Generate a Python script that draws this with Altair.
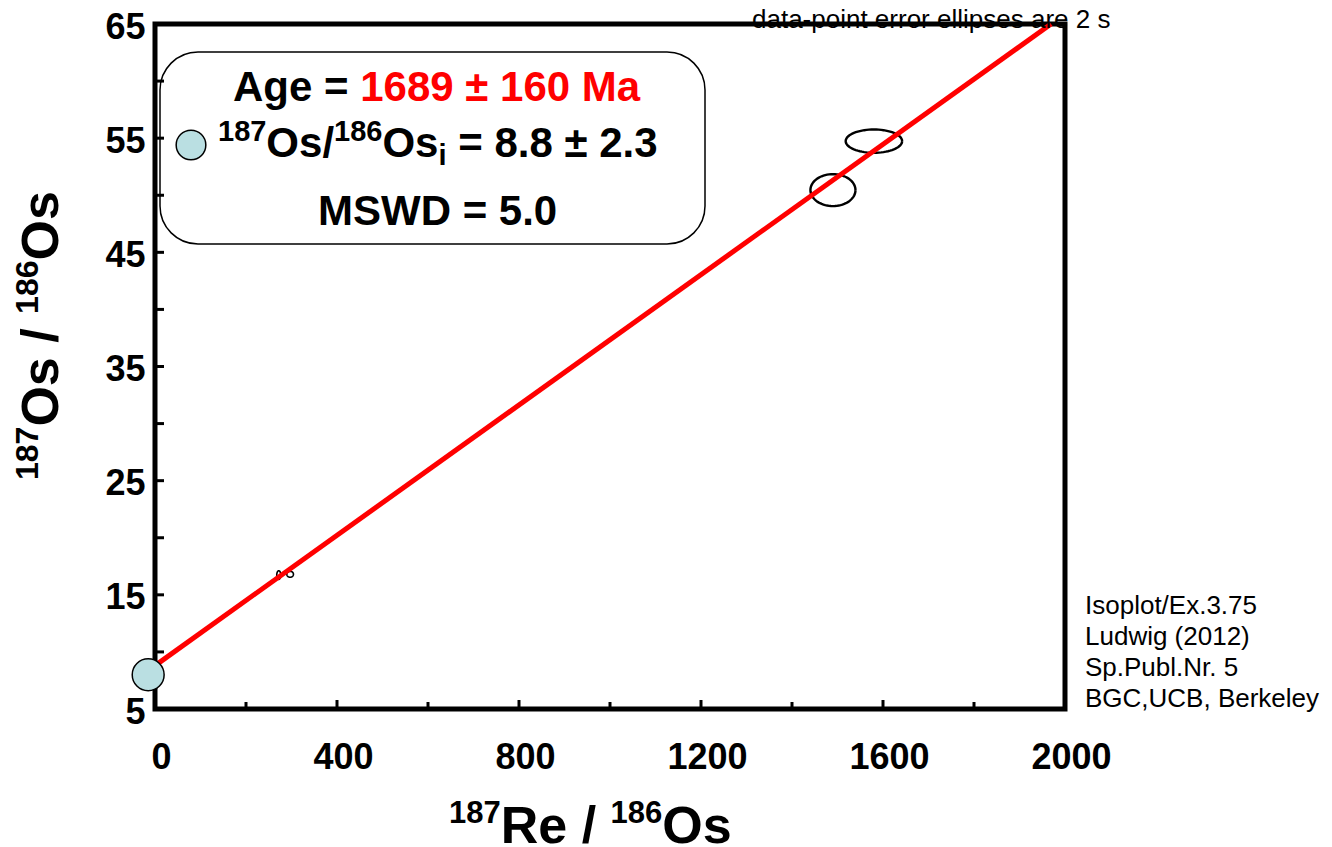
import numpy as np
import pandas as pd
import altair as alt

FONT = "Liberation Sans"

# ---------------- data ----------------
x_label_values = [0, 400, 800, 1200, 1600, 2000]
x_tick_major = [400, 800, 1200, 1600]
x_tick_minor = [200, 600, 1000, 1400, 1800]
y_label_values = [5, 15, 25, 35, 45, 55, 65]
y_tick_values = [10, 15, 20, 25, 30, 35, 40, 45, 50, 55, 60]

# data-point error ellipses (centre, semi-axes in data units)
ell_id = ["a", "b", "c", "d"]
ell_cx = [272, 297, 1490, 1580]
ell_cy = [16.73, 16.80, 50.45, 54.74]
ell_rx = [4.4, 7.3, 49.5, 62.0]
ell_ry = [0.38, 0.26, 1.40, 1.02]

# isochron fit
age_ma = 1689
initial_ratio = 8.8
lambda_re187 = 1.666e-11
intercept_marker_x = [-15]
intercept_marker_y = [8.0]

note_lines = ["Isoplot/Ex.3.75", "Ludwig (2012)", "Sp.Publ.Nr. 5", "BGC,UCB, Berkeley"]
top_note = "data-point error ellipses are 2 s"

# ---------------- layout ----------------
W, H = 910, 685
L, T = 155, 24
x_scale = alt.Scale(domain=[0, 2000], nice=False, zero=False)
y_scale = alt.Scale(domain=[5, 65], nice=False, zero=False)
BLUE = "#badfe2"

# regression line
slope = np.exp(lambda_re187 * age_ma * 1e6) - 1
x_end = (65 - initial_ratio) / slope
line_df = pd.DataFrame({"x": [0, x_end], "y": [initial_ratio, initial_ratio + slope * x_end]})

# ellipse outlines
rows = []
tt = np.linspace(0, 2 * np.pi, 73)
for i, eid in enumerate(ell_id):
    for k, t in enumerate(tt):
        rows.append({"id": eid, "o": k,
                     "x": ell_cx[i] + ell_rx[i] * np.cos(t),
                     "y": ell_cy[i] + ell_ry[i] * np.sin(t),
                     "w": 1.6 if i < 2 else 2.4})
ell_df = pd.DataFrame(rows)

# text composition (Arial bold widths)
BW = {" ": 278, "/": 278, "=": 584, "±": 549, ".": 278, "A": 722, "g": 611, "e": 556,
      "M": 833, "a": 556, "S": 667, "W": 944, "D": 722, "O": 778, "s": 556, "R": 722, "i": 278}


def tw(s, size):
    return sum(BW.get(c, 556) for c in s) / 1000.0 * size


bold_texts = []
plain_texts = []


def compose(segs, x0, yb, m, s, angle=0, sup_shift=0.37):
    pos = 0.0
    for text, kind, col in segs:
        size = m if kind == "main" else s
        shift = 0.0 if kind == "main" else (sup_shift * m if kind == "sup" else -0.2 * m)
        lead = len(text) - len(text.lstrip(" "))
        pos += tw(" " * lead, size)
        body = text.strip(" ")
        if angle == 0:
            px, py = x0 + pos, yb - shift
        else:
            px, py = x0 - shift, yb - pos
        bold_texts.append({"t": body, "px": px - L, "py": py - T, "fs": size, "col": col, "ang": angle})
        pos += tw(text.lstrip(" "), size)


K = "black"
R = "#ff0000"
compose([("187", "sup", K), ("Re / ", "main", K), ("186", "sup", K), ("Os", "main", K)],
        449, 843, 52, 31, sup_shift=0.38)
compose([("187", "sup", K), ("Os / ", "main", K), ("186", "sup", K), ("Os", "main", K)],
        58, 480, 52, 32, angle=270, sup_shift=0.38)
compose([("Age = ", "main", K), ("1689 ± 160 Ma", "main", R)], 233, 101, 42, 29)
compose([("187", "sup", K), ("Os/", "main", K), ("186", "sup", K), ("Os", "main", K),
         ("i", "sub", K), (" = 8.8 ± 2.3", "main", K)], 218, 157, 42, 29)
compose([("MSWD = 5.0", "main", K)], 318, 225, 42, 29)
for j, line in enumerate(note_lines):
    plain_texts.append({"t": line, "px": 1085 - L, "py": 614 + 31 * j - T, "fs": 26, "col": K, "ang": 0})
plain_texts.append({"t": top_note, "px": 752 - L, "py": 28 - T, "fs": 26, "col": K, "ang": 0})

one = pd.DataFrame({"a": [0]})

# ---------------- layers ----------------
axis_x = alt.Axis(values=x_label_values, ticks=False, domain=False, grid=False, format="d",
                  labelFontSize=36, labelFont=FONT, labelFontWeight="bold", labelColor="black",
                  labelPadding=31, labelOffset=6, labelFlush=False, labelOverlap=False, title=None)
axis_y = alt.Axis(values=y_label_values, ticks=False, domain=False, grid=False, format="d",
                  labelFontSize=36, labelFont=FONT, labelFontWeight="bold", labelColor="black",
                  labelPadding=10, labelOffset=3, labelFlush=False, labelOverlap=False, title=None)


def X(field):
    return alt.X(field, type="quantitative", scale=x_scale, axis=axis_x)


def Y(field):
    return alt.Y(field, type="quantitative", scale=y_scale, axis=axis_y)


box = alt.Chart(one).mark_rect(cornerRadius=38, fill="white", stroke="black", strokeWidth=1.5).encode(
    x=alt.value(5), x2=alt.value(550), y=alt.value(28), y2=alt.value(220))

ellipses = alt.Chart(ell_df).mark_line(color="black").encode(
    x=X("x"), y=Y("y"),
    detail="id:N", order="o:Q",
    strokeWidth=alt.StrokeWidth("w:Q", scale=None))

fit = alt.Chart(line_df).mark_line(color=R, strokeWidth=5).encode(x=X("x"), y=Y("y"))

marker = alt.Chart(pd.DataFrame({"x": intercept_marker_x, "y": intercept_marker_y})).mark_point(
    shape="circle", filled=True, fill=BLUE, stroke="black", strokeWidth=1.5, size=1018, opacity=1).encode(
    x=X("x"), y=Y("y"))

legend_dot = alt.Chart(one).mark_point(
    shape="circle", filled=True, fill=BLUE, stroke="black", strokeWidth=1.5, size=880, opacity=1).encode(
    x=alt.value(191 - L), y=alt.value(145 - T))

xt_major = alt.Chart(pd.DataFrame({"v": x_tick_major})).mark_rule(color="black", strokeWidth=3).encode(
    x=X("v"), y=alt.value(H), y2=alt.value(H - 9))
xt_minor = alt.Chart(pd.DataFrame({"v": x_tick_minor})).mark_rule(color="black", strokeWidth=3).encode(
    x=X("v"), y=alt.value(H), y2=alt.value(H - 7))
yt = alt.Chart(pd.DataFrame({"v": y_tick_values})).mark_rule(color="black", strokeWidth=3).encode(
    y=Y("v"), x=alt.value(0), x2=alt.value(9))


def text_layer(rows, weight):
    df = pd.DataFrame(rows)
    return alt.Chart(df).mark_text(align="left", baseline="alphabetic", font=FONT, fontWeight=weight).encode(
        x=alt.X("px:Q", scale=None, axis=None),
        y=alt.Y("py:Q", scale=None, axis=None),
        text="t:N",
        size=alt.Size("fs:Q", scale=None),
        color=alt.Color("col:N", scale=None),
        angle=alt.Angle("ang:Q", scale=None),
    )


chart = alt.layer(box, ellipses, fit, marker, legend_dot, xt_major, xt_minor, yt,
                  text_layer(bold_texts, "bold"), text_layer(plain_texts, "normal")).properties(
    width=W, height=H,
    autosize=alt.AutoSizeParams(type="none"),
    padding={"left": L, "top": T, "right": 1332 - L - W, "bottom": 847 - T - H},
    background="white",
).configure_view(stroke="black", strokeWidth=5)

chart.save("out.html", embed_options={"renderer": "svg", "actions": False})
